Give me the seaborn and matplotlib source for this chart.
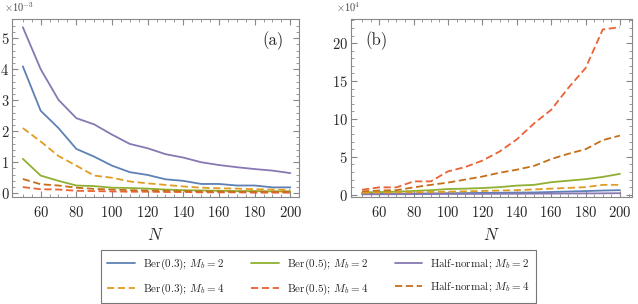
import pandas as pd
import seaborn as sns
import matplotlib.pyplot as plt
import numpy as np

N = list(range(50, 201, 10))

# panel (a), units of 1e-3
a_ber03_m2 = [4.09, 2.66, 2.1, 1.43, 1.18, 0.89, 0.68, 0.59, 0.45, 0.4, 0.3, 0.3, 0.25, 0.25, 0.19, 0.19]
a_ber05_m2 = [1.11, 0.57, 0.4, 0.25, 0.23, 0.18, 0.17, 0.15, 0.12, 0.1, 0.09, 0.08, 0.07, 0.07, 0.06, 0.06]
a_half_m2 = [5.35, 4.0, 3.01, 2.42, 2.22, 1.89, 1.59, 1.45, 1.26, 1.15, 1.0, 0.91, 0.84, 0.78, 0.73, 0.65]
a_ber03_m4 = [2.1, 1.67, 1.2, 0.89, 0.57, 0.5, 0.38, 0.32, 0.27, 0.22, 0.18, 0.16, 0.15, 0.13, 0.12, 0.11]
a_ber05_m4 = [0.2, 0.13, 0.12, 0.08, 0.07, 0.06, 0.05, 0.05, 0.04, 0.04, 0.03, 0.03, 0.03, 0.02, 0.02, 0.02]
a_half_m4 = [0.46, 0.29, 0.25, 0.18, 0.14, 0.12, 0.1, 0.09, 0.08, 0.07, 0.06, 0.06, 0.05, 0.05, 0.05, 0.05]

# panel (b), units of 1e4
b_ber03_m2 = [0.1, 0.12, 0.13, 0.15, 0.17, 0.2, 0.22, 0.24, 0.26, 0.28, 0.3, 0.36, 0.42, 0.48, 0.55, 0.6]
b_ber05_m2 = [0.3, 0.35, 0.4, 0.5, 0.6, 0.75, 0.8, 0.88, 1.0, 1.2, 1.3, 1.65, 1.85, 2.05, 2.35, 2.75]
b_half_m2 = [0.05, 0.06, 0.07, 0.08, 0.09, 0.1, 0.1, 0.11, 0.12, 0.13, 0.14, 0.15, 0.16, 0.17, 0.18, 0.2]
b_ber03_m4 = [0.25, 0.28, 0.3, 0.33, 0.36, 0.4, 0.45, 0.5, 0.55, 0.6, 0.7, 0.8, 0.9, 1.0, 1.3, 1.3]
b_ber05_m4 = [0.66, 0.97, 0.97, 1.76, 1.76, 3.08, 3.65, 4.5, 5.7, 7.3, 9.4, 11.2, 14.1, 16.7, 21.8, 22.1]
b_half_m4 = [0.44, 0.55, 0.6, 0.97, 1.3, 1.6, 2.0, 2.4, 2.9, 3.3, 3.8, 4.7, 5.4, 6.0, 7.2, 7.8]

labels = ["Ber(0.3); $M_b=2$", "Ber(0.5); $M_b=2$", "Half-normal; $M_b=2$",
          "Ber(0.3); $M_b=4$", "Ber(0.5); $M_b=4$", "Half-normal; $M_b=4$"]
colors = ["#5E81B5", "#8FB032", "#8778B3", "#E19C24", "#EB6235", "#C56E1A"]
dashes = ["", "", "", (4, 2), (4, 2), (4, 2)]

sns.set_style("ticks")
plt.rcParams['font.family'] = ['cmr10', 'DejaVu Serif']
plt.rcParams['mathtext.fontset'] = 'cm'
plt.rcParams['axes.formatter.use_mathtext'] = True

def long_form(series):
    rows = []
    for lab, vals in zip(labels, series):
        for n, v in zip(N, vals):
            rows.append({"N": n, "value": v, "series": lab})
    return pd.DataFrame(rows)

df_a = long_form([a_ber03_m2, a_ber05_m2, a_half_m2, a_ber03_m4, a_ber05_m4, a_half_m4])
df_b = long_form([b_ber03_m2, b_ber05_m2, b_half_m2, b_ber03_m4, b_ber05_m4, b_half_m4])

fig = plt.figure(figsize=(6.38, 3.04), dpi=100)
ax1 = fig.add_axes([0.019, 0.352, 0.450, 0.586])
ax2 = fig.add_axes([0.550, 0.352, 0.440, 0.586])

pal = dict(zip(labels, colors))
dsh = dict(zip(labels, dashes))
for ax, df in [(ax1, df_a), (ax2, df_b)]:
    sns.lineplot(data=df, x="N", y="value", hue="series", style="series",
                 palette=pal, dashes=dsh, hue_order=labels, style_order=labels,
                 linewidth=1.3, ax=ax, legend=(ax is ax1))

ax1.set_xlim(44, 203.5)
ax1.set_ylim(-0.12, 5.62)
ax2.set_xlim(43.5, 206.8)
ax2.set_ylim(-0.3, 23.2)
ax1.set_yticks([0, 1, 2, 3, 4, 5])
ax2.set_yticks([0, 5, 10, 15, 20])

for ax in (ax1, ax2):
    ax.set_xticks(range(60, 201, 20))
    ax.set_xticks(range(50, 206, 5), minor=True)
    ax.set_xlabel("$N$", fontsize=12, labelpad=5)
    ax.set_ylabel("")
    ax.tick_params(which="both", direction="in", top=True, right=True,
                   color="#888888", labelsize=10.5)
    ax.tick_params(which="major", length=4)
    ax.tick_params(which="minor", length=2)
    ax.tick_params(axis="x", pad=6)
    ax.tick_params(axis="y", pad=2)
    for s in ax.spines.values():
        s.set_color("#888888")
        s.set_linewidth(0.8)

ax1.set_yticks(np.arange(0, 5.6, 0.2), minor=True)
ax2.set_yticks(np.arange(0, 23.1, 1), minor=True)

fig.text(0.006, 0.96, r"$\times10^{-3}$", fontsize=7.5, color="#444444")
fig.text(0.527, 0.96, r"$\times10^{4}$", fontsize=7.5, color="#444444")
ax1.text(0.945, 0.88, "(a)", transform=ax1.transAxes, ha="right", va="center", fontsize=12)
ax2.text(0.05, 0.88, "(b)", transform=ax2.transAxes, ha="left", va="center", fontsize=12)

h, l = ax1.get_legend_handles_labels()
ax1.get_legend().remove()
order = [0, 3, 1, 4, 2, 5]
leg = fig.legend([h[i] for i in order], [l[i] for i in order], ncol=3,
                 loc="lower center", bbox_to_anchor=(0.499, 0.003),
                 fontsize=8, frameon=True, fancybox=False,
                 edgecolor="#555555", handlelength=2.5, handletextpad=0.72,
                 columnspacing=2.4, labelspacing=0.9, borderpad=0.55,
                 borderaxespad=0)
leg.get_frame().set_linewidth(0.8)

fig.savefig("out.png", dpi=100)
